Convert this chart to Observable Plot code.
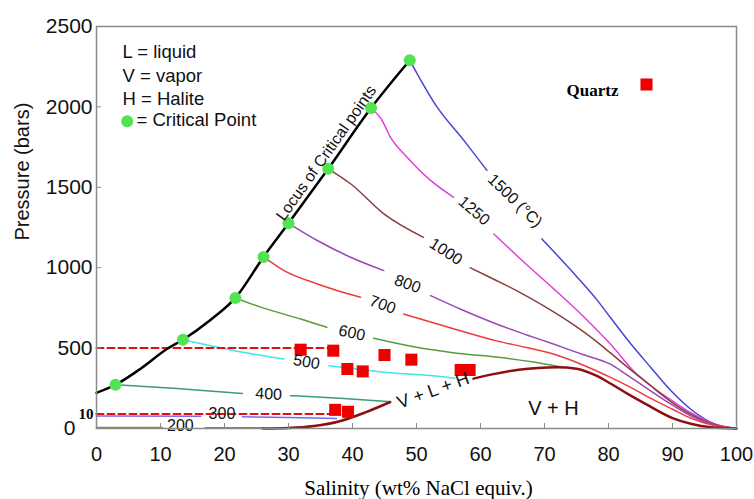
<!DOCTYPE html>
<html><head><meta charset="utf-8">
<script src="https://cdn.jsdelivr.net/npm/d3@7"></script>
<script src="https://cdn.jsdelivr.net/npm/@observablehq/plot@0.6"></script>
<style>body{margin:0;background:#fff}svg{display:block}</style>
</head><body><div id="chart"></div>
<script>
// ---- data (salinity wt% NaCl, pressure bars) ----
const xTicks = [0,10,20,30,40,50,60,70,80,90,100];
const yTicks = [500,1000,1500,2000,2500];

const criticalPoints = [[2.97,272],[13.5,552],[21.7,812],[26.1,1067],[30.0,1276],[36.2,1615],[42.9,1993],[48.95,2290]];
const locus = [[0,222],[2.97,272],[7,375],[11,494],[13.5,552],[17.8,675],[21.7,812],[26.1,1067],[30.0,1276],[36.2,1615],[42.9,1993],[48.95,2290]];

const iso1500 = [[[48.95,2290],[53.2,2000],[57.4,1792],[61.0,1605]],
                 [[69.6,1179],[74,990],[78.2,800],[80.3,690],[83,550],[86.6,380],[90,225],[93,115],[96.5,30],[100,0]]];
const iso1250 = [[[42.9,1993],[44.6,1917],[45.9,1813],[48.5,1689],[52.2,1543],[55.8,1438]],
                 [[62.1,1210],[66.5,1045],[71.4,870],[76,700],[80.3,525],[84,355],[87,255],[90,172],[93,95],[96.5,28],[100,0]]];
const iso1000 = [[[36.2,1615],[39.7,1522],[44.9,1335],[51.1,1189]],
                 [[58.4,1000],[62,930],[66,850],[70,760],[74,660],[78,545],[80.3,470],[83,380],[86,285],[90,160],[93,85],[96.5,25],[100,0]]];
const iso800  = [[[30.0,1276],[34.5,1169],[39.7,1065],[44.9,982]],
                 [[52.2,826],[57,740],[62.5,650],[67,585],[71.4,525],[76,460],[80.3,400],[83,330],[86,250],[90,145],[93,75],[96.5,22],[100,0]]];
const iso700  = [[[26.1,1067],[29.3,982],[34.5,899],[41.25,816]],
                 [[48.0,712],[55,630],[62.5,545],[67,505],[71.4,463],[76,395],[80.3,318],[83,265],[86,200],[90,120],[93,62],[96.5,18],[100,0]]];
const iso600  = [[[21.7,812],[26,750],[31.9,681],[36.0,629]],
                 [[43.3,561],[50,505],[56,470],[63.1,442],[68,415],[72.3,386]]];
const iso500  = [[[13.5,552],[16,530],[22,480],[29.3,432]],
                 [[36.3,390],[45,350],[54.8,318],[56,312]]];
const iso400  = [[[2.97,272],[12,250],[22.8,218]],
                 [[30.3,204],[38,188],[45.9,166]]];
const iso300  = [[[0,78],[16.3,76]],
                 [[22.8,73],[30,68],[37.5,62]]];
const iso200  = [[[0,6],[10.3,6]],
                 [[17,5],[26,4]]];

const halite = [[[26,0],[30,3],[34,15],[38,45],[42,100],[45.9,165]],
                [[58.9,310],[62,338],[66,366],[69,377],[72,381],[75,372],[78,330],[80.3,280],[83,215],[86,148],[90,65],[93,28],[96,8],[100,0]]];

const dashUpper = [[0,500],[37,500]];
const dashLower = [[0,90],[38,90]];

const quartz = [[31.9,490],[37.0,484],[39.2,370],[41.6,355],[45.0,457],[49.2,428],[56.9,364],[58.3,364],[37.3,116],[39.3,104]];

const isoNames  = ["1500","1250","1000","800","700","600","500","400","300","200"];
const isoColors = ["#4646d2","#e040dc","#8c3c3c","#9a48b4","#ee3a3a","#5a9a3c","#3ee6ee","#3c9a78","#7b68ee","#5a9a5a"];
const isoData   = [iso1500,iso1250,iso1000,iso800,iso700,iso600,iso500,iso400,iso300,iso200];

// isotherm label annotations [text, x, p, rotate]
const isoLabels = [["1500 (°C)",65.4,1417,44],["1250",59.0,1354,40],["1000",54.6,1100,33],["800",48.6,899,20],
                   ["700",44.7,770,20],["600",39.9,594,12],["500",32.8,414,10],["400",26.9,214,3],["300",19.6,88,0],["200",13.1,18,0]];

// ---- build tables ----
const isoRows = [];
isoData.forEach((iso,i) => iso.forEach((seg,s) => seg.forEach(([x,p]) => isoRows.push({x,p,id:isoNames[i]+"-"+s,color:isoColors[i]}))));
const haliteRows = [];
halite.forEach((seg,s) => seg.forEach(([x,p]) => haliteRows.push({x,p,id:s})));
const toXY = arr => arr.map(([x,p]) => ({x,p}));
const labelRows = isoLabels.map(([t,x,p,r]) => ({t,x,p,r}));

const sans = "Liberation Sans, Arial, sans-serif";
const serif = "Liberation Serif, Times New Roman, serif";

const chart = Plot.plot({
  width: 754, height: 499,
  marginTop: 26, marginBottom: 71, marginLeft: 96, marginRight: 18,
  x: {domain:[0,100]},
  y: {domain:[0,2500]},
  color: {type:"identity"},
  style: {fontFamily: sans, color:"#111", background:"#fff"},
  marks: [
    Plot.line(isoRows, {x:"x", y:"p", z:"id", stroke:"color", strokeWidth:1.5, curve:"monotone-x"}),
    Plot.line(haliteRows, {x:"x", y:"p", z:"id", stroke:"#8b1010", strokeWidth:2.5, curve:"monotone-x"}),
    Plot.line(toXY(dashUpper), {x:"x", y:"p", stroke:"#e01010", strokeWidth:2, strokeDasharray:"7,4"}),
    Plot.line(toXY(dashLower), {x:"x", y:"p", stroke:"#e01010", strokeWidth:2, strokeDasharray:"7,4"}),
    Plot.line(toXY(locus), {x:"x", y:"p", stroke:"#000", strokeWidth:2.5, curve:"monotone-x"}),
    Plot.dot(toXY(quartz), {x:"x", y:"p", symbol:"square", r:6.8, fill:"#ee0000"}),
    Plot.dot(toXY(criticalPoints), {x:"x", y:"p", r:6, fill:"#52e352"}),
    Plot.text(labelRows, {x:"x", y:"p", text:"t", rotate:"r", fontSize:16, fill:"#111"}),
    Plot.text(["Locus of Critical points"], {x:()=>35.9, y:()=>1713, rotate:-54.7, fontSize:16, fill:"#111"}),
    Plot.text(["V + L + H"], {x:()=>52.6, y:()=>236, rotate:-20, fontSize:18, fill:"#111"}),
    Plot.text(["V + H"], {x:()=>71.4, y:()=>123, fontSize:20, fill:"#111"}),
    Plot.frame({stroke:"#8a8a8a", strokeWidth:1.5}),
    Plot.axisX(xTicks, {tickSize:-5, tickPadding:23, fontSize:20, stroke:"#8a8a8a", fill:"#111", label:null}),
    Plot.axisY(yTicks, {tickSize:-5, tickPadding:9, fontSize:21, stroke:"#8a8a8a", fill:"#111", label:null, tickFormat:d=>String(d)}),
    Plot.text([0], {x:()=>0, y:d=>d, text:d=>String(d), textAnchor:"end", dx:-21, fontSize:21, fill:"#111"}),
    Plot.text(["10"], {x:()=>0, y:()=>dashLower[0][1], textAnchor:"end", dx:-3, fontSize:15, fontFamily:serif, fontWeight:"bold", fill:"#000"}),
    // legend
    Plot.text(["L = liquid\nV = vapor\nH = Halite"], {frameAnchor:"top-left", dx:26, dy:15, lineAnchor:"top", textAnchor:"start", lineHeight:1.27, fontSize:18.5, fill:"#111"}),
    Plot.dot([0], {frameAnchor:"top-left", dx:30.7, dy:94.7, r:6, fill:"#52e352"}),
    Plot.text(["= Critical Point"], {frameAnchor:"top-left", dx:40, dy:86, lineAnchor:"top", textAnchor:"start", fontSize:18.5, fill:"#111"}),
    Plot.text(["Quartz"], {frameAnchor:"top-right", dx:-118, dy:57, textAnchor:"end", fontSize:17, fontFamily:serif, fontWeight:"bold", fill:"#000"}),
    Plot.dot([0], {frameAnchor:"top-right", dx:-90, dy:58, symbol:"square", r:6.8, fill:"#ee0000"}),
    // axis titles
    Plot.text(["Salinity (wt% NaCl equiv.)"], {frameAnchor:"bottom", dx:2, dy:66, fontSize:21, fontFamily:serif, fill:"#000"}),
    Plot.text(["Pressure (bars)"], {frameAnchor:"left", dx:-74, dy:13, rotate:-90, fontSize:20, fill:"#111"})
  ]
});
document.getElementById("chart").append(chart);
</script>
</body></html>
